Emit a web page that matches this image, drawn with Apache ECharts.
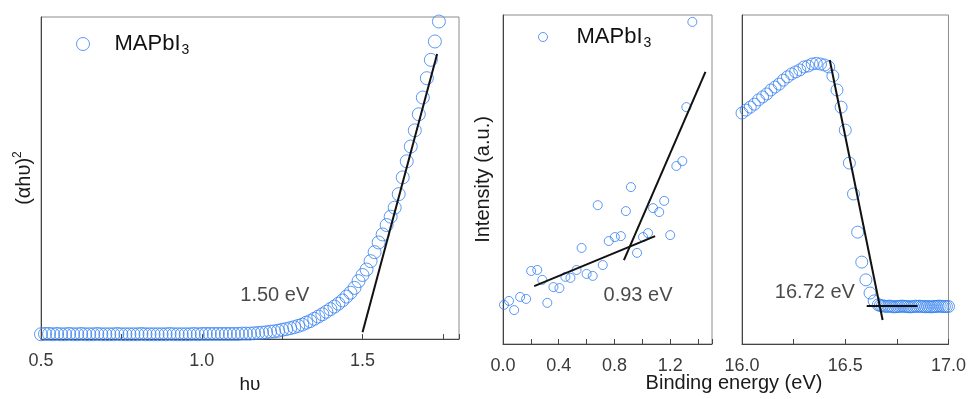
<!DOCTYPE html>
<html>
<head>
<meta charset="utf-8">
<script src="https://cdn.jsdelivr.net/npm/echarts@6/dist/echarts.min.js"></script>
<style>
  html, body { margin: 0; padding: 0; background: #fff; }
  #chart { width: 969px; height: 399px; }
</style>
</head>
<body>
<div id="chart"></div>
<script>
  // --- left panel: Tauc plot ---
  const hv = [
    0.5, 0.5125, 0.525, 0.5375, 0.55, 0.5625, 0.575, 0.5875, 0.6, 0.6125,
    0.625, 0.6375, 0.65, 0.6625, 0.675, 0.6875, 0.7, 0.7125, 0.725, 0.7375,
    0.75, 0.7625, 0.775, 0.7875, 0.8, 0.8125, 0.825, 0.8375, 0.85, 0.8625,
    0.875, 0.8875, 0.9, 0.9125, 0.925, 0.9375, 0.95, 0.9625, 0.975, 0.9875,
    1.0, 1.0125, 1.025, 1.0375, 1.05, 1.0625, 1.075, 1.0875, 1.1, 1.1125,
    1.125, 1.1375, 1.15, 1.1625, 1.175, 1.1875, 1.2, 1.2125, 1.225, 1.2375,
    1.25, 1.2625, 1.275, 1.2875, 1.3, 1.3125, 1.325, 1.3375, 1.35, 1.3625,
    1.375, 1.3875, 1.4, 1.4125, 1.425, 1.4375, 1.45, 1.4625, 1.475, 1.4875,
    1.5, 1.5125, 1.525, 1.5375, 1.55, 1.5625, 1.575, 1.5875, 1.6, 1.6125,
    1.625, 1.6375, 1.65, 1.6625, 1.675, 1.6875, 1.7, 1.7125, 1.725, 1.7375
  ];
  const ahv2 = [
    1.5, 1.6, 1.6, 1.5, 1.6, 1.5, 1.5, 1.6, 1.5, 1.5,
    1.6, 1.5, 1.5, 1.5, 1.6, 1.5, 1.5, 1.5, 1.5, 1.6,
    1.5, 1.5, 1.5, 1.5, 1.5, 1.6, 1.5, 1.5, 1.5, 1.5,
    1.5, 1.5, 1.6, 1.5, 1.5, 1.5, 1.5, 1.5, 1.6, 1.5,
    1.6, 1.6, 1.6, 1.6, 1.6, 1.6, 1.6, 1.6, 1.6, 1.6,
    1.7, 1.7, 1.7, 1.8, 1.9, 2.0, 2.1, 2.3, 2.4, 2.6,
    2.9, 3.1, 3.4, 3.7, 4.1, 4.5, 5.1, 5.6, 6.3, 7.0,
    7.7, 8.5, 9.3, 10.1, 11.0, 12.0, 13.2, 14.4, 15.9, 18.0,
    19.9, 21.6, 24.2, 27.0, 30.0, 32.5, 35.4, 38.0, 40.8, 45.0,
    50.2, 55.2, 59.8, 64.8, 69.8, 75.0, 81.0, 86.7, 92.4, 98.6
  ];
  const taucFit = [[1.5, 2.1], [1.732, 88.5]];

  // --- middle panel: valence band edge ---
  const vbE = [1.359, 1.316, 1.287, 1.244, 0.918, 0.680, 0.882, 1.157, 1.077, 1.121,
    1.200, 1.005, 1.041, 0.759, 0.803, 0.846, 0.962, 0.564, 0.716, 0.202,
    0.246, 0.282, 0.448, 0.484, 0.528, 0.600, 0.644, 0.362, 0.405, 0.123,
    0.166, 0.043, 0.007, 0.080, 0.318];
  const vbI = [97.9, 72.0, 55.6, 54.1, 47.7, 42.2, 40.4, 43.5, 41.3, 40.1,
    33.1, 32.5, 33.7, 31.3, 32.5, 32.8, 27.7, 29.2, 24.0, 22.2,
    22.5, 19.5, 20.4, 20.1, 22.5, 21.3, 20.7, 17.3, 17.0, 14.3,
    13.7, 13.1, 11.9, 10.3, 12.5];
  const vbFitLow = [[0.224, 17.6], [1.092, 32.8]];
  const vbFitHigh = [[0.868, 25.5], [1.453, 82.7]];

  // --- right panel: secondary electron cutoff ---
  const seE = [16.00, 16.02, 16.04, 16.06, 16.08, 16.10, 16.12, 16.14, 16.16, 16.18,
    16.20, 16.22, 16.24, 16.26, 16.28, 16.30, 16.32, 16.34, 16.36, 16.38,
    16.40, 16.42, 16.44, 16.46, 16.48, 16.50, 16.52, 16.54, 16.56, 16.58,
    16.60, 16.62, 16.64, 16.66, 16.67, 16.68, 16.69, 16.70, 16.71, 16.72,
    16.73, 16.74, 16.75, 16.76, 16.77, 16.78, 16.79, 16.80, 16.81, 16.82,
    16.83, 16.84, 16.85, 16.86, 16.87, 16.88, 16.89, 16.90, 16.91, 16.92,
    16.93, 16.94, 16.95, 16.96, 16.97, 16.98, 16.99, 17.00];
  const seI = [70.2, 71.1, 72.0, 72.9, 74.2, 75.1, 76.0, 77.2, 78.1, 79.0,
    80.2, 81.2, 82.1, 82.7, 83.3, 84.2, 84.5, 85.1, 85.3, 85.1,
    84.8, 84.2, 81.5, 77.2, 72.0, 65.0, 55.0, 45.6, 34.0, 24.9,
    19.5, 15.5, 13.1, 11.9, 11.7, 11.6, 11.5, 11.4, 11.5, 11.5,
    11.3, 11.3, 11.4, 11.4, 11.5, 11.5, 11.4, 11.4, 11.3, 11.3,
    11.4, 11.5, 11.4, 11.5, 11.4, 11.4, 11.3, 11.4, 11.3, 11.3,
    11.4, 11.4, 11.5, 11.5, 11.4, 11.4, 11.4, 11.4];
  const seFitSlope = [[16.425, 86.3], [16.681, 7.3]];
  const seFitBase = [[16.604, 11.55], [16.850, 11.55]];

  // text annotations [panel, x, y, text]
  const notes = [
    [0, 1.227, 13.6, '1.50 eV'],
    [1, 0.969, 14.6, '0.93 eV'],
    [2, 16.353, 15.8, '16.72 eV']
  ];

  const BLUE = '#3380f0';
  const FONT = '"Liberation Sans", Arial, sans-serif';
  const zip = (a, b) => a.map((v, i) => [v, b[i]]);

  const chart = echarts.init(document.getElementById('chart'));

  const grids = [
    { left: 41, top: 17, width: 418, height: 330 },
    { left: 503, top: 15, width: 209, height: 329 },
    { left: 742, top: 15, width: 207, height: 329 }
  ].map(g => Object.assign(g, { show: true, borderColor: '#8c8c8c', borderWidth: 1 }));

  const everyLabel = step => v => {
    const k = v / step;
    return Math.abs(k - Math.round(k)) < 1e-6 ? v.toFixed(1) : '';
  };

  const xBase = (grid, min, max, interval, labelStep) => ({
    gridIndex: grid, type: 'value', min, max, interval,
    axisLine: { lineStyle: { color: '#444', width: 1 } },
    axisTick: { inside: true, length: 5, lineStyle: { color: '#444' } },
    axisLabel: { color: '#3a3a3a', fontSize: 18, fontFamily: FONT, margin: 13,
      formatter: everyLabel(labelStep) },
    splitLine: { show: false }
  });

  const yBase = grid => ({
    gridIndex: grid, type: 'value', min: 0, max: 100,
    axisLine: { show: true, lineStyle: { color: '#444', width: 1 } },
    axisTick: { show: false }, axisLabel: { show: false },
    splitLine: { show: false },
    nameLocation: 'middle', nameRotate: 90,
    nameTextStyle: { fontSize: 20, color: '#1a1a1a', fontFamily: FONT,
      rich: { sup: { fontSize: 12, color: '#1a1a1a', fontFamily: FONT, padding: [0, 0, 12, 0] } } }
  });

  const xAxes = [
    Object.assign(xBase(0, 0.5, 1.8, 0.25, 0.5), {
      name: 'h\u03c5', nameLocation: 'middle', nameGap: 22,
      nameTextStyle: { fontSize: 19, color: '#1a1a1a', fontFamily: FONT } }),
    xBase(1, 0, 1.5, 0.2, 0.4),
    xBase(2, 16, 17, 0.25, 0.5)
  ];
  const yAxes = [
    Object.assign(yBase(0), { name: '(\u03b1h\u03c5){sup|2}', nameGap: 5 }),
    Object.assign(yBase(1), { name: 'Intensity (a.u.)', nameGap: 10 }),
    yBase(2)
  ];

  const dots = (i, data, size, name) => ({
    type: 'scatter', name, xAxisIndex: i, yAxisIndex: i, data, symbol: 'circle',
    symbolSize: size, silent: true,
    itemStyle: { color: 'transparent', borderColor: BLUE, borderWidth: 1 }
  });
  const fit = (i, data) => ({
    type: 'line', xAxisIndex: i, yAxisIndex: i, data, symbol: 'none', silent: true,
    lineStyle: { color: '#111', width: 2 }
  });

  const noteSeries = notes.map(n => ({
    type: 'scatter', xAxisIndex: n[0], yAxisIndex: n[0], symbolSize: 0, silent: true,
    data: [{ value: [n[1], n[2]], name: n[3] }],
    label: { show: true, position: 'inside', formatter: '{b}', fontSize: 20,
      color: '#1a1a1a', fontFamily: FONT }
  }));

  const legendText = pad => ({
    rich: {
      m: { fontSize: 22, color: '#111', fontFamily: FONT, padding: [0, 0, 0, pad] },
      s: { fontSize: 14, color: '#111', fontFamily: FONT, padding: [12, 0, 0, 1] }
    }
  });

  chart.setOption({
    animation: false,
    grid: grids,
    xAxis: xAxes,
    yAxis: yAxes,
    legend: [
      { data: ['MAPbI3'], left: 76, top: 33, padding: 0, icon: 'circle', itemWidth: 13, itemHeight: 13,
        itemStyle: { color: 'transparent', borderColor: BLUE, borderWidth: 1 },
        formatter: () => '{m|MAPbI}{s|3}', textStyle: legendText(20), selectedMode: false },
      { data: ['MAPbI3'], left: 538, top: 26, padding: 0, icon: 'circle', itemWidth: 9, itemHeight: 9,
        itemStyle: { color: 'transparent', borderColor: BLUE, borderWidth: 1 },
        formatter: () => '{m|MAPbI}{s|3}', textStyle: legendText(24), selectedMode: false }
    ],
    graphic: [{
      type: 'text', x: 734, y: 383,
      style: { text: 'Binding energy (eV)', fontSize: 20, fontFamily: FONT, fill: '#1a1a1a',
        align: 'center', verticalAlign: 'middle' }
    }],
    series: [
      dots(0, zip(hv, ahv2), 13, 'MAPbI3'),
      fit(0, taucFit),
      dots(1, zip(vbE, vbI), 9, 'MAPbI3'),
      fit(1, vbFitLow),
      fit(1, vbFitHigh),
      dots(2, zip(seE, seI), 12, 'cutoff'),
      fit(2, seFitSlope),
      fit(2, seFitBase)
    ].concat(noteSeries)
  });
</script>
</body>
</html>
